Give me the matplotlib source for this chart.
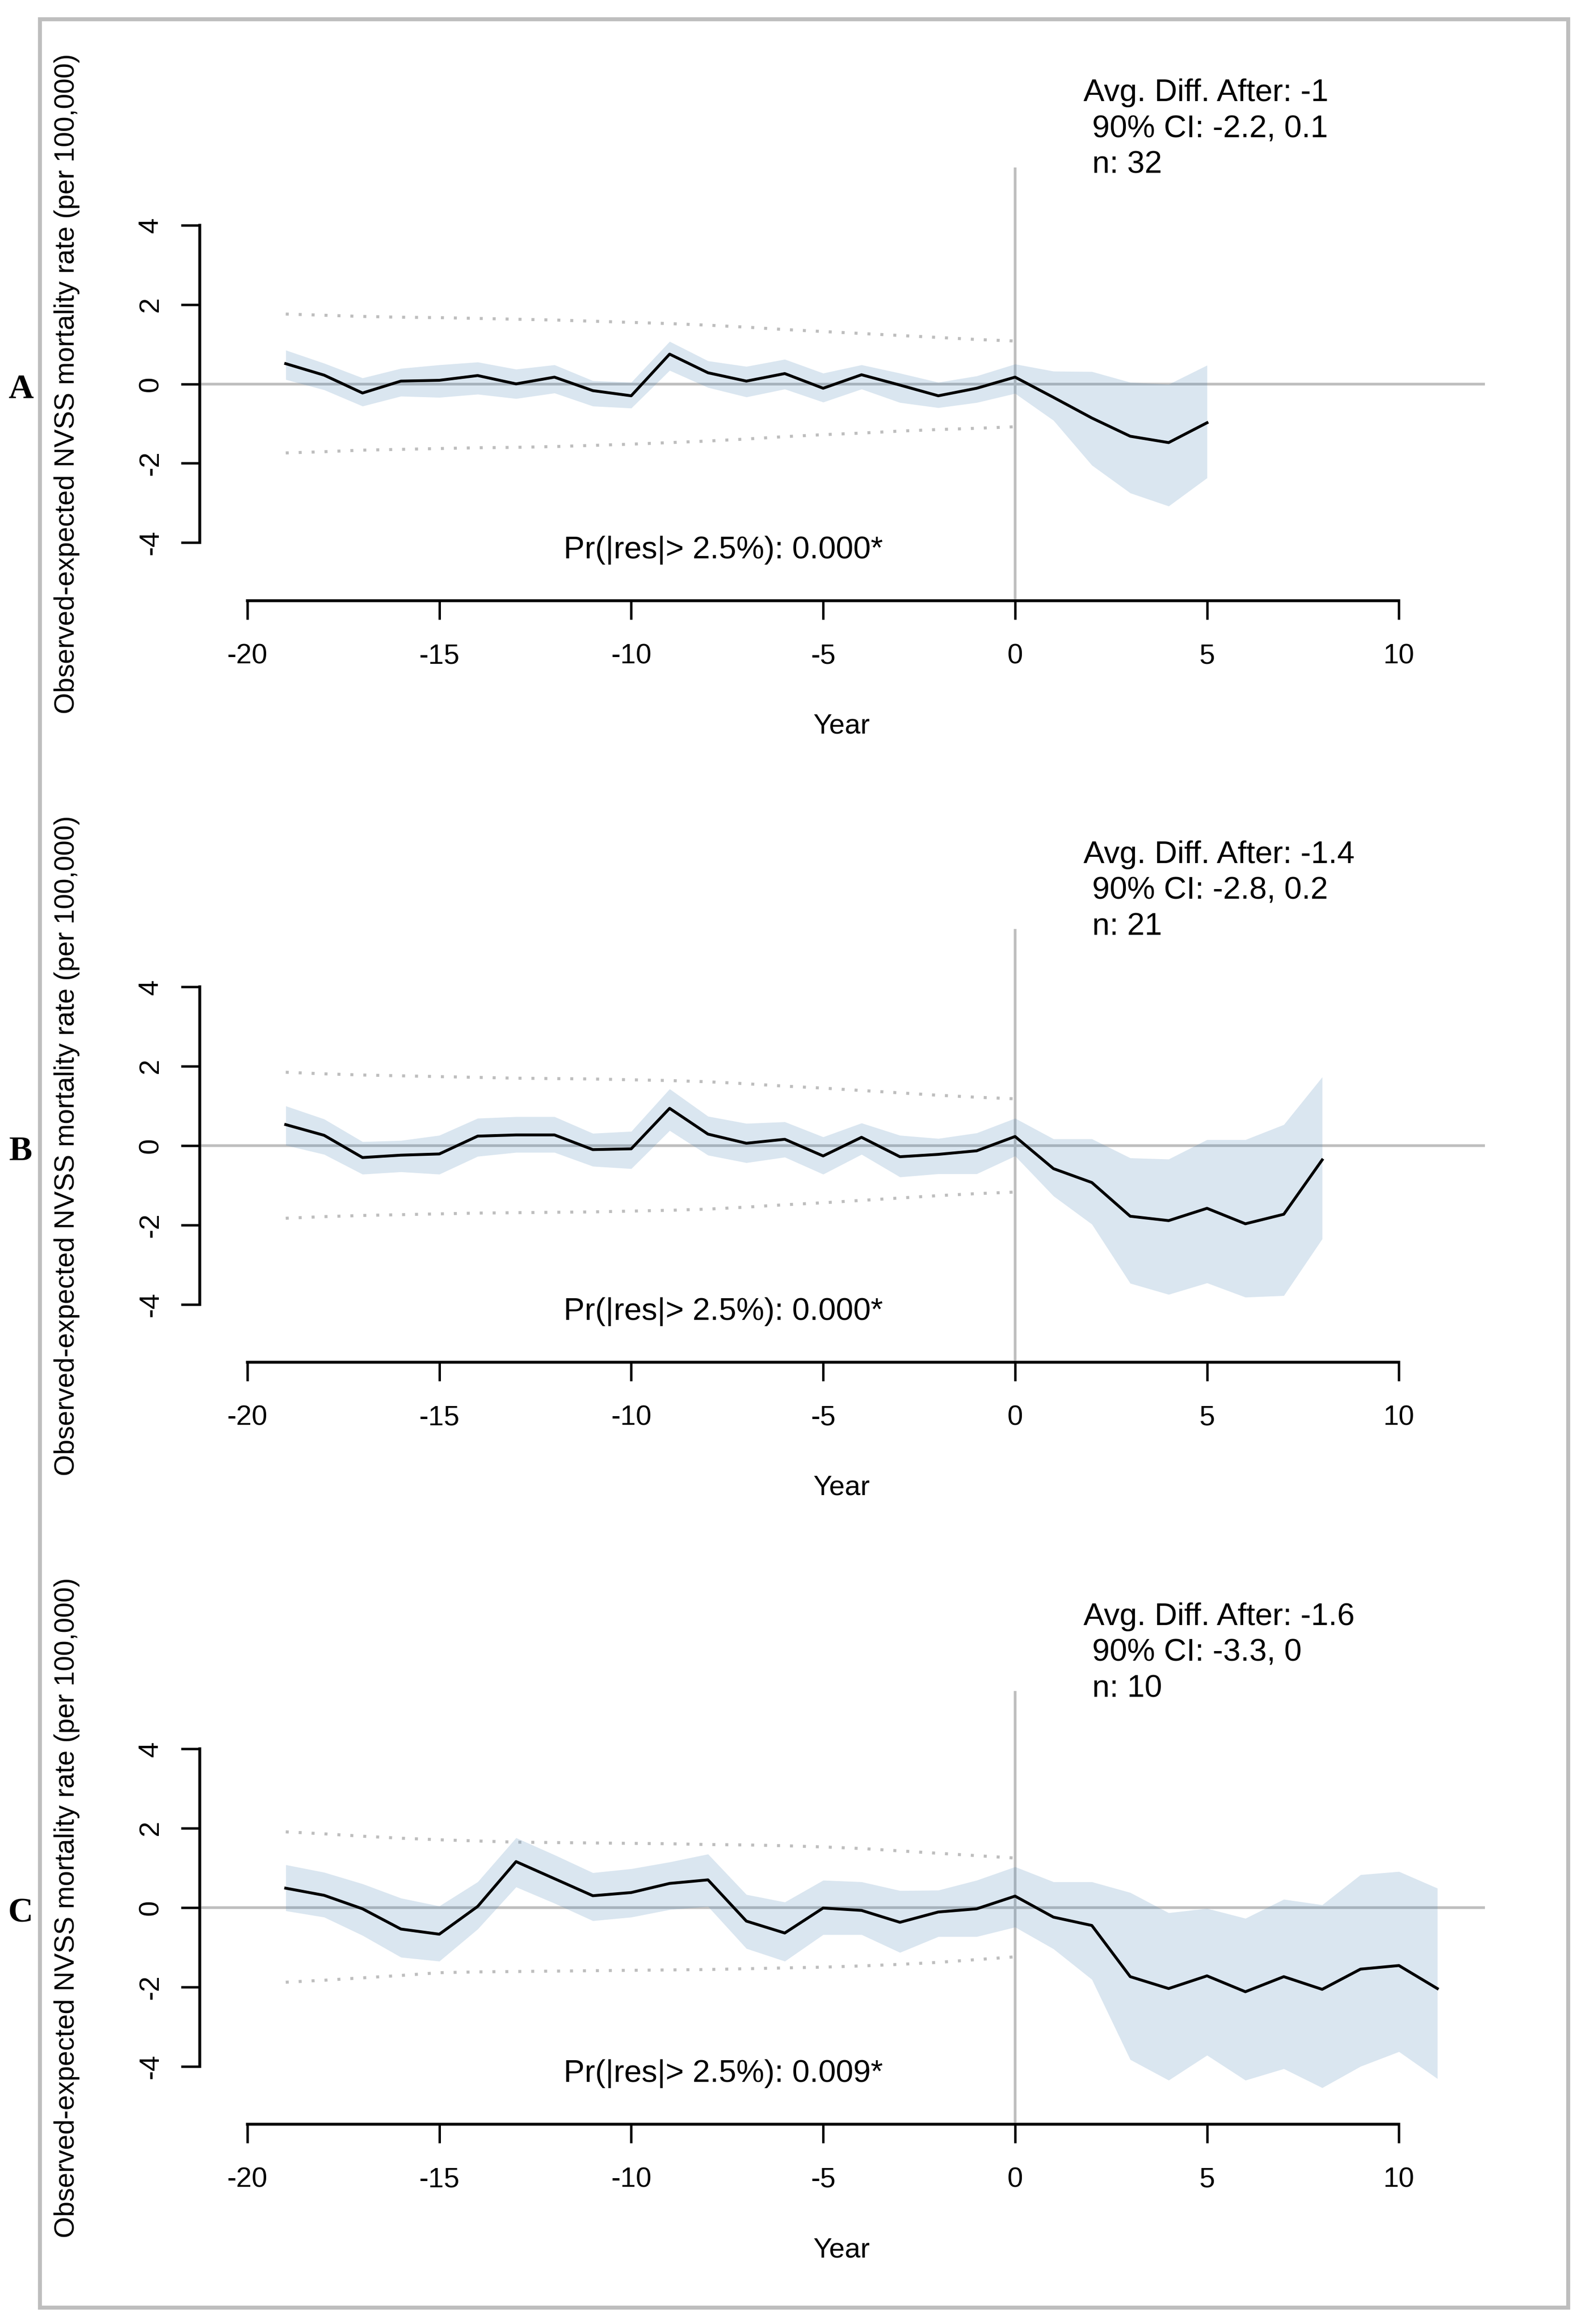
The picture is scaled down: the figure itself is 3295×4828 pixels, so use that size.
import matplotlib
matplotlib.use("Agg")
import matplotlib.pyplot as plt
from matplotlib.patches import Rectangle

plt.rcParams["font.family"] = ["Liberation Sans", "DejaVu Sans"]
plt.rcParams["axes.unicode_minus"] = False

# event time (years relative to treatment)
years_pre = list(range(-19, 1))

# panel A
a_years = list(range(-19, 6))
a_diff = [0.51, 0.22, -0.23, 0.07, 0.09, 0.21, 0.00, 0.17, -0.17, -0.30,
          0.75, 0.28, 0.07, 0.26, -0.11, 0.23, -0.03, -0.30, -0.11, 0.17,
          -0.34, -0.86, -1.32, -1.48, -0.98]
a_hi = [0.85, 0.52, 0.15, 0.39, 0.48, 0.55, 0.37, 0.48, 0.08, 0.04,
        1.07, 0.58, 0.44, 0.62, 0.27, 0.48, 0.27, 0.04, 0.20, 0.50,
        0.32, 0.31, 0.04, -0.01, 0.47]
a_lo = [0.11, -0.15, -0.56, -0.31, -0.34, -0.26, -0.37, -0.23, -0.56, -0.61,
        0.34, -0.09, -0.33, -0.13, -0.46, -0.13, -0.47, -0.60, -0.47, -0.24,
        -0.92, -2.05, -2.75, -3.08, -2.37]
a_dot_hi = [1.76, 1.73, 1.70, 1.68, 1.67, 1.65, 1.63, 1.61, 1.58, 1.55,
            1.52, 1.48, 1.43, 1.37, 1.32, 1.27, 1.22, 1.17, 1.12, 1.08]
a_dot_lo = [-1.74, -1.71, -1.67, -1.65, -1.63, -1.61, -1.60, -1.58, -1.55, -1.52,
            -1.48, -1.44, -1.39, -1.33, -1.28, -1.24, -1.19, -1.15, -1.12, -1.08]

# panel B
b_years = list(range(-19, 9))
b_diff = [0.53, 0.26, -0.30, -0.24, -0.21, 0.24, 0.27, 0.27, -0.10, -0.08,
          0.94, 0.29, 0.06, 0.16, -0.26, 0.21, -0.28, -0.22, -0.13, 0.23,
          -0.58, -0.93, -1.78, -1.89, -1.58, -1.97, -1.73, -0.36]
b_hi = [1.00, 0.67, 0.10, 0.13, 0.26, 0.69, 0.73, 0.73, 0.31, 0.36,
        1.43, 0.74, 0.56, 0.60, 0.22, 0.57, 0.26, 0.18, 0.32, 0.69,
        0.17, 0.17, -0.31, -0.34, 0.15, 0.15, 0.53, 1.73]
b_lo = [0.01, -0.22, -0.72, -0.66, -0.72, -0.27, -0.17, -0.17, -0.52, -0.58,
        0.38, -0.24, -0.43, -0.29, -0.72, -0.22, -0.79, -0.71, -0.71, -0.26,
        -1.27, -1.98, -3.47, -3.75, -3.46, -3.82, -3.78, -2.35]
b_dot_hi = [1.85, 1.81, 1.78, 1.76, 1.74, 1.72, 1.70, 1.69, 1.68, 1.66,
            1.64, 1.61, 1.56, 1.50, 1.45, 1.39, 1.33, 1.27, 1.22, 1.18]
b_dot_lo = [-1.83, -1.79, -1.76, -1.74, -1.72, -1.70, -1.69, -1.68, -1.67, -1.65,
            -1.63, -1.60, -1.55, -1.49, -1.44, -1.38, -1.32, -1.26, -1.21, -1.17]

# panel C
c_years = list(range(-19, 12))
c_diff = [0.49, 0.31, -0.03, -0.54, -0.67, 0.03, 1.16, 0.73, 0.30, 0.38,
          0.61, 0.70, -0.34, -0.64, -0.01, -0.07, -0.37, -0.11, -0.03, 0.29,
          -0.24, -0.45, -1.74, -2.04, -1.72, -2.12, -1.74, -2.06, -1.55, -1.46, -2.04]
c_hi = [1.08, 0.89, 0.60, 0.24, 0.04, 0.65, 1.76, 1.33, 0.88, 0.98,
        1.15, 1.35, 0.33, 0.14, 0.69, 0.65, 0.43, 0.44, 0.69, 1.03,
        0.65, 0.65, 0.38, -0.13, -0.02, -0.27, 0.21, 0.07, 0.83, 0.91, 0.49]
c_lo = [-0.08, -0.24, -0.70, -1.25, -1.35, -0.54, 0.52, 0.11, -0.33, -0.24,
        -0.05, 0.03, -1.03, -1.35, -0.68, -0.68, -1.13, -0.73, -0.73, -0.49,
        -1.04, -1.81, -3.83, -4.35, -3.72, -4.35, -4.06, -4.54, -4.00, -3.63, -4.31]
c_dot_hi = [1.91, 1.86, 1.80, 1.75, 1.71, 1.68, 1.65, 1.64, 1.63, 1.62,
            1.61, 1.59, 1.58, 1.56, 1.53, 1.49, 1.43, 1.37, 1.31, 1.25]
c_dot_lo = [-1.88, -1.83, -1.77, -1.71, -1.64, -1.62, -1.61, -1.60, -1.59, -1.58,
            -1.57, -1.56, -1.54, -1.52, -1.50, -1.47, -1.43, -1.38, -1.31, -1.24]

panel_letters = ["A", "B", "C"]
avg_texts = ["Avg. Diff. After: -1", "Avg. Diff. After: -1.4", "Avg. Diff. After: -1.6"]
ci_texts = [" 90% CI: -2.2, 0.1", " 90% CI: -2.8, 0.2", " 90% CI: -3.3, 0"]
n_texts = [" n: 32", " n: 21", " n: 10"]
pr_texts = ["Pr(|res|> 2.5%): 0.000*", "Pr(|res|> 2.5%): 0.000*", "Pr(|res|> 2.5%): 0.009*"]

panels = [
    (a_years, a_diff, a_hi, a_lo, a_dot_hi, a_dot_lo),
    (b_years, b_diff, b_hi, b_lo, b_dot_hi, b_dot_lo),
    (c_years, c_diff, c_hi, c_lo, c_dot_hi, c_dot_lo),
]

W, H = 3295, 4828
fig = plt.figure(figsize=(W / 100, H / 100), dpi=100)

# light gray frame around the whole figure
fig.patches.append(Rectangle((83 / W, 1 - 4794 / H), (3258 - 83) / W, (4794 - 40) / H,
                             transform=fig.transFigure, fill=False,
                             edgecolor="#bebebe", linewidth=6))

GRAY = "#bebebe"
BAND = "steelblue"
LW = 4.3
ax_left, ax_w, ax_h = 415 / W, 2670 / W, 900 / H
bottoms = [1 - 1247.5 / H, 1 - 2830 / H, 1 - 4413 / H]

for i, (yrs, diff, hi, lo, dhi, dlo) in enumerate(panels):
    ax = fig.add_axes([ax_left, bottoms[i], ax_w, ax_h])
    ax.set_xlim(-21.24, 12.24)
    ax.set_ylim(-5.46, 5.46)

    ax.axhline(0, color=GRAY, lw=4.0, zorder=1)
    ax.axvline(0, color=GRAY, lw=4.0, zorder=1)
    ax.plot(years_pre, dhi, color=GRAY, lw=4.5, ls=(0, (1, 3.3)), zorder=2)
    ax.plot(years_pre, dlo, color=GRAY, lw=4.5, ls=(0, (1, 3.3)), zorder=2)
    ax.fill_between(yrs, lo, hi, color=BAND, alpha=0.2, lw=0, zorder=3)
    ax.plot(yrs, diff, color="black", lw=LW, zorder=4)

    for side in ["top", "right"]:
        ax.spines[side].set_visible(False)
    ax.spines["left"].set_bounds(-4, 4)
    ax.spines["bottom"].set_bounds(-20, 10)
    ax.spines["left"].set_linewidth(LW)
    ax.spines["bottom"].set_linewidth(LW)
    ax.set_xticks([-20, -15, -10, -5, 0, 5, 10])
    ax.set_yticks([-4, -2, 0, 2, 4])
    ax.tick_params(axis="both", direction="out", length=28, width=3.6,
                   labelsize=42)
    ax.tick_params(axis="x", pad=36)
    ax.tick_params(axis="y", labelrotation=90, pad=26)
    for lab in ax.get_yticklabels():
        lab.set_verticalalignment("center")

    ax.text(1.78, 7.33, avg_texts[i], fontsize=47, ha="left", va="center", clip_on=False)
    ax.text(1.78, 6.42, ci_texts[i], fontsize=47, ha="left", va="center", clip_on=False)
    ax.text(1.78, 5.52, n_texts[i], fontsize=47, ha="left", va="center", clip_on=False)
    ax.text(-7.6, -4.19, pr_texts[i], fontsize=47, ha="center", va="center")

    zero_px = [797.5, 2380, 3963][i]
    fig.text(138.6 / W, 1 - zero_px / H,
             "Observed-expected NVSS mortality rate (per 100,000)",
             rotation=90, ha="center", va="center", fontsize=41)
    fig.text(1749 / W, 1 - (zero_px + 711) / H, "Year",
             ha="center", va="center", fontsize=42)
    fig.text(43 / W, 1 - (zero_px + 12) / H, panel_letters[i],
             ha="center", va="center", fontsize=52, fontweight="bold",
             family=["Liberation Serif", "DejaVu Serif"])

fig.savefig("out.png", dpi=100)
